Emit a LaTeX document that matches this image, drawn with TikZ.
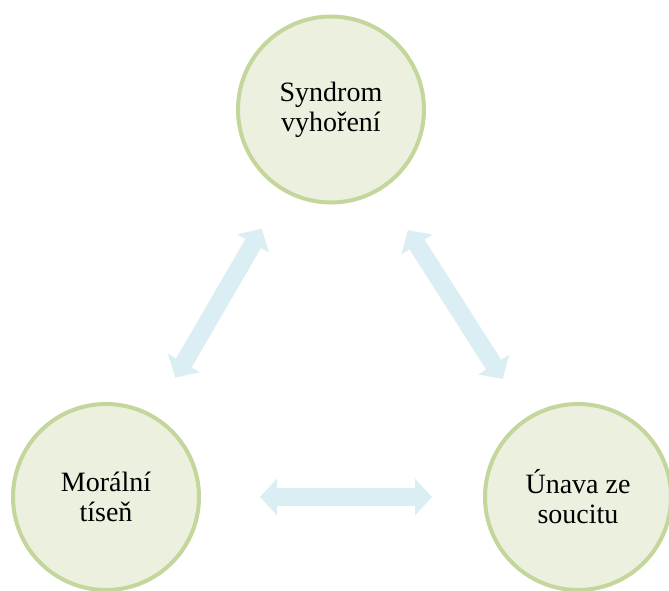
\documentclass[tikz,border=0pt]{standalone}
\usepackage{fontspec}
\setmainfont{Liberation Serif}
\usetikzlibrary{arrows.meta}
\definecolor{circfill}{RGB}{235,241,222}
\definecolor{circline}{RGB}{195,214,155}
\definecolor{arrowblue}{RGB}{218,238,243}
\tikzset{
  topic/.style={circle, draw=circline, fill=circfill, line width=4pt,
    minimum size=186pt, inner sep=0pt, align=center,
    font=\fontsize{28pt}{30pt}\selectfont},
  biarrow/.style={draw=arrowblue, line width=18pt,
    {Triangle[width=36pt,length=17pt]}-{Triangle[width=36pt,length=17pt]}}
}
\begin{document}
\begin{tikzpicture}[x=1pt,y=-1pt]
\useasboundingbox (0,0) rectangle (669,590);
\node[topic] (syn) at (331,109.5) {Syndrom\\vyhoření};
\node[topic] (mor) at (106,497) {Morální\\tíseň};
\node[topic] (una) at (578,497) {Únava ze\\soucitu};
\draw[biarrow, shorten <=43pt, shorten >=43pt] (syn) -- (mor);
\draw[biarrow, shorten <=48pt, shorten >=45pt] (syn) -- (una);
\draw[biarrow, shorten <=59pt, shorten >=51pt] (mor) -- (una);
\end{tikzpicture}
\end{document}
